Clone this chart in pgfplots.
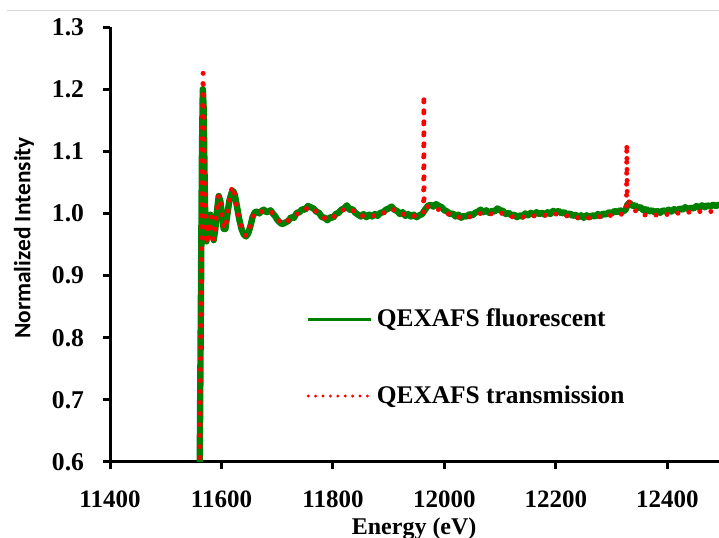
\documentclass[border=0pt]{standalone}
\usepackage{pgfplots}
\pgfplotsset{compat=1.18}
\usepackage{fontspec}
\setmainfont{Liberation Serif}
\newfontfamily\labelsans{Carlito}
\definecolor{fluogreen}{RGB}{0,128,0}
\definecolor{transred}{RGB}{255,0,0}

\begin{document}
\begin{tikzpicture}
\path[use as bounding box] (0,0) rectangle (359.5bp,269bp);
\draw[line width=0.5bp, black!15] (3.5bp,263.5bp) -- (359.5bp,263.5bp);
\begin{axis}[
  at={(55bp,38bp)}, anchor=south west,
  scale only axis,
  width=306.6bp, height=217.5bp,
  xmin=11400, xmax=12500,
  ymin=0.6, ymax=1.3,
  axis x line=bottom, axis y line=left,
  axis line style={-, line width=1.5bp, black},
  xtick={11400,11600,...,12400},
  ytick={0.6,0.7,...,1.31},
  scaled x ticks=false,
  tick align=outside,
  major tick length=3.5bp,
  every tick/.style={line width=1.5bp, black},
  /pgf/number format/assume math mode=true,
  x tick label style={/pgf/number format/1000 sep={}, font=\fontsize{12.5bp}{14bp}\selectfont\bfseries, yshift=-7.5bp},
  y tick label style={/pgf/number format/.cd, fixed, fixed zerofill, precision=1, /tikz/.cd, font=\fontsize{12.8bp}{14bp}\selectfont\bfseries, xshift=-6bp},
  xlabel={Energy (eV)},
  ylabel={Normalized Intensity},
  xlabel style={font=\fontsize{12bp}{14bp}\selectfont\bfseries, at={(axis description cs:0.496,0)}, anchor=base, yshift=-36.5bp},
  ylabel style={font=\fontsize{11.7bp}{14bp}\selectfont\labelsans\bfseries, at={(axis description cs:-0.1403,0.515)}, anchor=center},
  legend style={draw=none, fill=none, at={(rel axis cs:0.32,0.362)}, anchor=north west,
    font=\fontsize{12.7bp}{15bp}\selectfont\bfseries, row sep=24bp, inner sep=0pt},
  legend cell align=left,
]
% fluorescence-yield scan
\addplot[fluogreen, line width=3.2bp, line join=round,
  legend image code/.code={\draw[fluogreen, line width=1.5bp] (0bp,0bp) -- (31.5bp,0bp);}]
coordinates {
(11555,0.20) (11561,0.60) (11563,0.85) (11565,1.10) (11566.5,1.20) (11568,1.17)
(11569.5,1.07) (11571,0.98) (11573,0.955) (11575,0.975) (11577,0.990) (11580,0.998)
(11583,0.975) (11586,0.957) (11589,0.975) (11592,1.005) (11595,1.028) (11598,1.020)
(11601,0.995) (11604,0.975) (11607,0.975) (11610,0.995) (11614,1.020) (11618,1.033)
(11621,1.036) (11624,1.030) (11628,1.010) (11632,0.990) (11636,0.975) (11640,0.966)
(11644,0.963) (11648,0.968) (11652,0.980) (11656,0.995) (11660,1.002) (11664,1.003)
(11668,1.000) (11672,1.004) (11676,1.006) (11680,1.002) (11684,1.003) (11688,1.005)
(11692,1.000) (11696,0.996) (11700,0.990) (11704,0.986) (11708,0.983) (11712,0.984)
(11716,0.986) (11720,0.988) (11725,0.994) (11730,0.993) (11735,1.001) (11740,1.002)
(11745,1.007) (11750,1.006) (11755,1.012) (11760,1.010) (11765,1.008) (11770,1.003)
(11775,1.001) (11780,0.994) (11785,0.993) (11790,0.989) (11795,0.994) (11800,0.993)
(11805,0.999) (11810,1.001) (11815,1.006) (11820,1.008) (11825,1.013) (11830,1.006)
(11835,1.007) (11840,1.001) (11845,0.998) (11850,0.995) (11855,0.999) (11860,0.994)
(11865,0.998) (11870,0.995) (11875,0.999) (11880,0.996) (11885,1.001) (11890,1.002)
(11895,1.006) (11900,1.008) (11905,1.011) (11910,1.006) (11915,1.004) (11920,0.999)
(11925,1.002) (11930,0.996) (11935,0.999) (11940,0.995) (11945,0.998) (11950,0.994)
(11955,0.997) (11960,0.999) (11965,1.006) (11970,1.012) (11975,1.014) (11980,1.011)
(11985,1.015) (11990,1.012) (11995,1.010) (12000,1.005) (12005,1.003) (12010,0.999)
(12015,1.000) (12020,0.995) (12025,0.998) (12030,0.993) (12035,0.996) (12040,0.995)
(12045,0.999) (12050,0.997) (12055,1.001) (12060,1.003) (12065,1.006) (12070,1.002)
(12075,1.005) (12080,1.001) (12085,1.004) (12090,1.003) (12095,1.008) (12100,1.005)
(12105,1.004) (12110,0.999) (12115,1.001) (12120,0.997) (12125,0.998) (12130,0.994)
(12135,0.997) (12140,0.995) (12145,1.000) (12150,0.997) (12155,1.001) (12160,0.998)
(12165,1.002) (12170,0.999) (12175,1.001) (12180,0.998) (12185,1.002) (12190,0.999)
(12195,1.004) (12200,1.002) (12205,1.004) (12210,1.000) (12215,1.002) (12220,0.998)
(12225,1.000) (12230,0.996) (12235,0.998) (12240,0.994) (12245,0.997) (12250,0.993)
(12255,0.997) (12260,0.994) (12265,0.997) (12270,0.995) (12275,0.999) (12280,0.996)
(12285,1.000) (12290,0.998) (12295,1.002) (12300,1.000) (12305,1.004) (12310,1.002)
(12315,1.005) (12320,1.003) (12325,1.006) (12328,1.014) (12332,1.017) (12337,1.012)
(12342,1.013) (12347,1.009) (12352,1.010) (12357,1.005) (12362,1.007) (12367,1.003)
(12372,1.005) (12377,1.002) (12382,1.004) (12387,1.001) (12392,1.005) (12397,1.003)
(12402,1.006) (12407,1.003) (12412,1.007) (12417,1.004) (12422,1.008) (12427,1.006)
(12432,1.010) (12437,1.007) (12442,1.009) (12447,1.008) (12452,1.012) (12457,1.009)
(12462,1.013) (12467,1.010) (12472,1.013) (12477,1.011) (12482,1.014) (12487,1.012)
(12492,1.014) (12497,1.012)
};
\addlegendentry{QEXAFS fluorescent}
% transmission scan
\addplot[transred, line width=2.5bp, line cap=round, dash pattern=on 0pt off 5.5bp,
  legend image code/.code={\draw[transred, line width=1.6bp, line cap=round, dash pattern=on 0pt off 3.7bp] (0bp,0bp) -- (31.5bp,0bp);}]
coordinates {
(11555,0.20) (11561,0.60) (11563,0.85) (11565,1.10) (11567,1.226) (11568.5,1.15)
(11569.5,1.05) (11571,0.970) (11573,0.950) (11575,0.985) (11577,0.960) (11579,0.990)
(11581,0.995) (11583,0.970) (11586,0.958) (11589,0.978) (11592,1.010) (11595,1.030)
(11598,1.018) (11601,0.995) (11604,0.978) (11607,0.975) (11610,0.995) (11614,1.022)
(11618,1.038) (11620,1.044) (11623,1.035) (11627,1.012) (11632,0.990) (11636,0.975)
(11640,0.967) (11644,0.964) (11648,0.969) (11652,0.981) (11656,0.995) (11660,1.002)
(11666,1.002) (11672,1.003) (11680,1.003) (11688,1.004) (11694,0.998) (11700,0.991)
(11708,0.984) (11714,0.985) (11720,0.989) (11730,0.994) (11740,1.003) (11750,1.007)
(11760,1.010) (11770,1.003) (11780,0.995) (11790,0.990) (11800,0.994) (11810,1.000)
(11820,1.007) (11830,1.008) (11840,1.002) (11850,0.996) (11860,0.996) (11870,0.996)
(11880,0.997) (11890,1.000) (11900,1.007) (11910,1.006) (11920,1.000) (11930,0.998)
(11940,0.996) (11950,0.996) (11958,0.997) (11962.5,1.003) (11963,1.190) (11963.5,1.012)
(11970,1.011) (11980,1.010) (11990,1.006) (12000,1.002) (12010,0.998) (12020,0.995)
(12030,0.993) (12040,0.994) (12050,0.995) (12060,0.999) (12070,1.001) (12080,0.999)
(12090,1.000) (12100,1.001) (12110,0.998) (12120,0.995) (12130,0.993) (12140,0.994)
(12150,0.995) (12160,0.996) (12170,0.997) (12180,0.997) (12190,0.998) (12200,0.999)
(12210,0.998) (12220,0.996) (12230,0.995) (12240,0.993) (12250,0.992) (12260,0.993)
(12270,0.994) (12280,0.995) (12290,0.996) (12300,0.997) (12310,0.998) (12320,0.999)
(12326.5,1.004) (12327,1.112) (12328,1.022) (12333,1.016) (12340,1.007) (12347,1.000)
(12355,0.998) (12365,0.997) (12375,0.997) (12385,0.998) (12395,0.998) (12405,0.999)
(12415,1.000) (12425,1.001) (12435,1.002) (12445,1.002) (12455,1.003) (12465,1.003)
(12475,1.003) (12485,1.003) (12495,1.003)
};
\addlegendentry{QEXAFS transmission}
\end{axis}
\end{tikzpicture}
\end{document}
